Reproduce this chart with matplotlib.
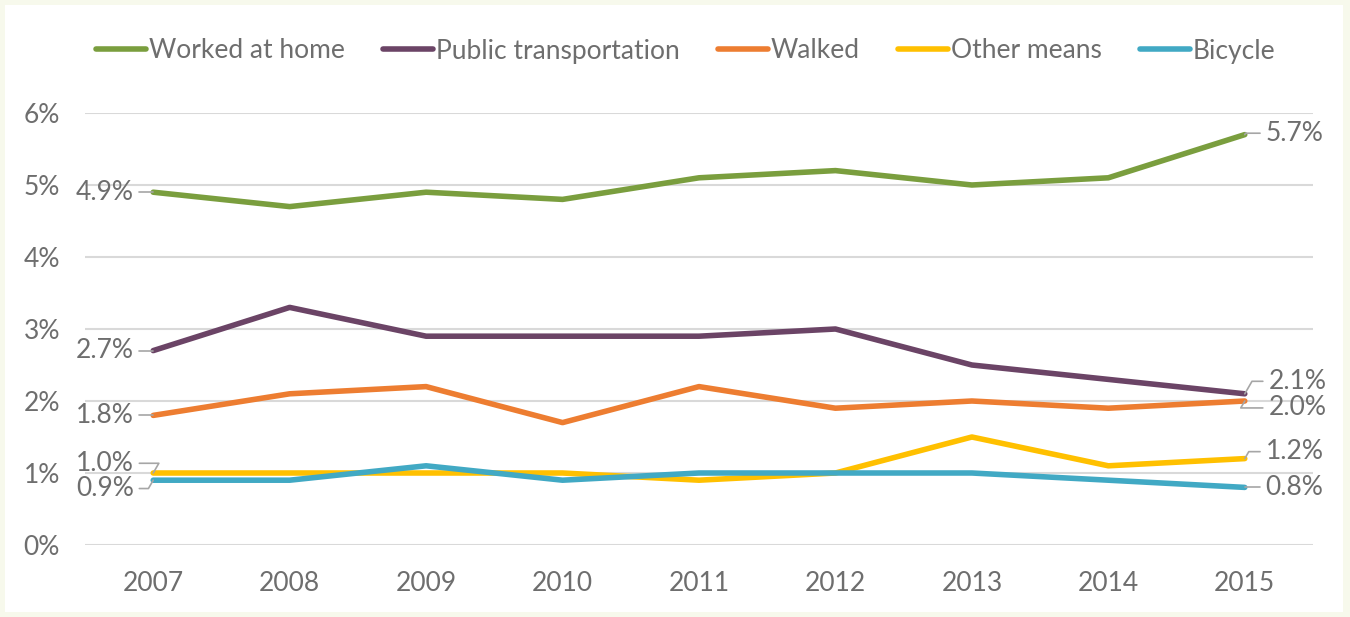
import matplotlib
matplotlib.use("Agg")
import matplotlib.pyplot as plt
from matplotlib.patches import Rectangle

# Data
years = ["2007", "2008", "2009", "2010", "2011", "2012", "2013", "2014", "2015"]
worked_home = [4.9, 4.7, 4.9, 4.8, 5.1, 5.2, 5.0, 5.1, 5.7]
public_trans = [2.7, 3.3, 2.9, 2.9, 2.9, 3.0, 2.5, 2.3, 2.1]
walked = [1.8, 2.1, 2.2, 1.7, 2.2, 1.9, 2.0, 1.9, 2.0]
other_means = [1.0, 1.0, 1.0, 1.0, 0.9, 1.0, 1.5, 1.1, 1.2]
bicycle = [0.9, 0.9, 1.1, 0.9, 1.0, 1.0, 1.0, 0.9, 0.8]

series = [
    ("Worked at home", worked_home, "#7A9E3E"),
    ("Public transportation", public_trans, "#6B4466"),
    ("Walked", walked, "#ED7D31"),
    ("Other means", other_means, "#FFC000"),
    ("Bicycle", bicycle, "#41A9C4"),
]

# label offsets in points (start label, end label)
left_offsets = [(-14, 0), (-14, 0), (-14, 0), (-14, 7), (-14, -6)]
right_offsets = [(15, 1), (17, 9), (17, -5), (15, 5), (15, 0)]

TXT = "#6E6E6E"
FS = 19
plt.rcParams["font.family"] = ["Lato", "DejaVu Sans"]

fig = plt.figure(figsize=(13.5, 6.17), dpi=100, facecolor="#F7F9EC")
fig.patches.append(Rectangle((5 / 1350, 5 / 617), 1338 / 1350, 607 / 617,
                             transform=fig.transFigure, facecolor="white",
                             edgecolor="none", zorder=-10))
ax = fig.add_axes([85 / 1350, 1 - 545 / 617, 1228 / 1350, 432 / 617])
ax.set_facecolor("none")
ax.set_zorder(2)

x = list(range(len(years)))
for i, (name, vals, col) in enumerate(series):
    ax.plot(x, vals, color=col, lw=4, label=name, solid_capstyle="round", zorder=3)
    # start label
    dx, dy = left_offsets[i]
    ax.annotate(f"{vals[0]:.1f}%", xy=(x[0], vals[0]), xytext=(dx, dy),
                textcoords="offset points", ha="right", va="center",
                fontsize=FS, color=TXT,
                arrowprops=dict(arrowstyle="-", color="#A6A6A6", lw=1.2,
                                shrinkA=2, shrinkB=0,
                                connectionstyle="angle,angleA=0,angleB=60,rad=0"))
    dx, dy = right_offsets[i]
    ax.annotate(f"{vals[-1]:.1f}%", xy=(x[-1], vals[-1]), xytext=(dx, dy),
                textcoords="offset points", ha="left", va="center",
                fontsize=FS, color=TXT,
                arrowprops=dict(arrowstyle="-", color="#A6A6A6", lw=1.2,
                                shrinkA=2, shrinkB=0,
                                connectionstyle="angle,angleA=0,angleB=60,rad=0"))

ax.set_xlim(-0.5, len(years) - 0.5)
ax.set_ylim(0, 6)
ax.set_yticks([0, 1, 2, 3, 4, 5, 6])
ax.set_yticklabels([f"{v}%" for v in range(7)])
ax.set_xticks(x)
ax.set_xticklabels(years)
ax.grid(axis="y", color="#D9D9D9", lw=1.5, zorder=0)
ax.tick_params(length=0, labelsize=FS, labelcolor=TXT)
ax.tick_params(axis="y", pad=18)
ax.tick_params(axis="x", pad=19)
for s in ax.spines.values():
    s.set_visible(False)

fig.legend(loc="center", bbox_to_anchor=(0.508, 1 - 51 / 617), ncol=5, frameon=False,
           fontsize=FS, labelcolor=TXT, handlelength=1.9, handletextpad=0.1,
           columnspacing=1.45)

fig.savefig("out.png", dpi=100, facecolor=fig.get_facecolor())
